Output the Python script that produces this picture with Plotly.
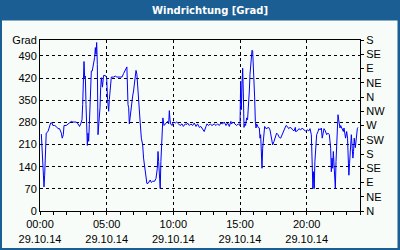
import plotly.graph_objects as go

# time of day in minutes (29.10.14), wind direction in degrees
minutes = [6, 9, 13, 18, 21, 24, 28, 36, 43, 48, 54, 58, 66, 73, 81, 88, 96, 100, 105, 108,
           118, 126, 133, 141, 148, 156, 163, 171, 178, 183, 189, 192, 195, 198, 201, 204, 207, 210, 213, 216,
           219, 222, 225, 228, 231, 235, 240, 246, 249, 252, 255, 258, 261, 264, 267, 270, 273, 276, 281,
           286, 294, 300, 304, 309, 312, 316, 321, 331, 339, 346, 354, 361, 369, 376, 384, 391, 396, 399, 402,
           406, 411, 417, 421, 426, 432, 436, 441, 447, 451, 456, 462, 466, 471, 477, 481, 486, 492, 496, 501,
           507, 516, 522, 528, 531, 534, 537, 541, 544, 549, 553, 558, 564, 571,
           574, 579, 582, 585, 588, 594, 600, 609, 615, 624, 630, 639, 645, 654, 660, 664, 672, 679, 687, 694,
           702, 709, 717, 724, 732, 739, 747, 751, 759, 766, 774, 784, 792, 799, 807, 814, 822, 829, 837, 844,
           852, 859,
           862, 870, 877, 885, 892, 900, 903, 906, 909, 912, 915, 918, 921, 925, 930, 934, 939, 942, 945, 948,
           951, 954, 957, 960, 963, 966, 969, 972, 975, 978, 982, 987, 990, 993, 996, 999, 1002, 1005, 1008,
           1011, 1017, 1023, 1029, 1035, 1041, 1047, 1053, 1059, 1065, 1071, 1077, 1083, 1089, 1095, 1101,
           1107, 1113, 1119, 1125, 1131, 1137, 1143, 1149,
           1150, 1158, 1165, 1173, 1180, 1188, 1195, 1203, 1210, 1215, 1221, 1225, 1228, 1231, 1234, 1237,
           1240, 1245, 1251, 1255, 1260, 1266, 1270, 1275, 1278, 1284, 1290, 1296, 1302, 1308, 1311, 1314,
           1317, 1320, 1323, 1326, 1329, 1332, 1335, 1338, 1341, 1344, 1347, 1350, 1353, 1356, 1359, 1365,
           1368, 1371, 1375, 1380, 1384, 1387, 1390, 1393, 1398, 1401, 1405, 1408, 1411, 1414, 1419, 1422,
           1425, 1428, 1431]
degrees = [243, 200, 115, 76, 113, 220, 246, 251, 267, 278, 278, 270, 270, 267, 260, 260, 246, 230, 241, 270,
           270, 275, 281, 283, 281, 281, 281, 275, 267, 275, 288, 336, 426, 472, 421, 426, 336, 251, 207, 246,
           220, 273, 336, 389, 442, 442, 458, 485, 516, 495, 532, 463, 241, 262, 294, 326, 389, 421, 391,
           428, 428, 421, 352, 315, 352, 400, 423, 423, 426, 423, 423, 421, 423, 434, 444, 455, 336, 326, 275,
           304, 331, 363, 379, 410, 444, 432, 389, 336, 278, 230, 209, 167, 145, 113, 87, 87, 94, 98, 90,
           94, 94, 103, 135, 188, 156, 124, 71, 156, 230, 294, 270, 275, 278,
           283, 275, 317, 288, 275, 270, 281, 278, 281, 275, 270, 275, 267, 275, 273, 278, 270, 275, 270, 278,
           267, 275, 264, 267, 260, 251, 267, 275, 270, 275, 270, 275, 270, 275, 270, 278, 275, 281, 270, 278,
           267, 283,
           275, 281, 275, 270, 275, 270, 410, 320, 400, 451, 373, 264, 275, 270, 294, 288, 336, 379, 432, 469,
           495, 508, 506, 463, 410, 357, 283, 262, 275, 267, 264, 262, 230, 241, 188, 135, 198, 232, 230,
           267, 260, 262, 264, 256, 230, 209, 220, 230, 246, 241, 232, 230, 241, 251, 264,
           270, 267, 260, 264, 262, 256, 253, 264,
           251, 253, 260, 256, 262, 256, 253, 256, 253, 260, 241, 145, 71, 124, 71, 156,
           211, 241, 251, 260, 256, 262, 230, 251, 260, 253, 241, 246, 241, 198, 124, 167,
           135, 188, 135, 103, 71, 156, 220, 253, 304, 288, 273, 262, 270, 264, 264, 251,
           262, 241, 230, 251, 230, 167, 113, 150, 230, 241, 198, 167, 188, 230, 200, 230,
           251, 260, 264]

x_tick_hours = [0, 5, 10, 15, 20]
x_tick_labels = ["00:00<br>29.10.14", "05:00<br>29.10.14", "10:00<br>29.10.14",
                 "15:00<br>29.10.14", "20:00<br>29.10.14"]
left_tick_vals = [0, 70, 140, 210, 280, 350, 420, 490, 540]
left_tick_text = ["0", "70", "140", "210", "280", "350", "420", "490", "Grad"]
right_tick_vals = [0, 45, 90, 135, 180, 225, 270, 315, 360, 405, 450, 495, 540]
right_tick_text = ["N", "NE", "E", "SE", "S", "SW", "W", "NW", "N", "NE", "E", "SE", "S"]
title_text = "Windrichtung [Grad]"

hours = [m / 60 for m in minutes]

BLUE = "#1b5e93"
BG = "#f8fcf8"
FONT = dict(family="Liberation Sans, Arial, sans-serif", size=11, color="black")

fig = go.Figure()
fig.add_trace(go.Scatter(x=hours, y=degrees, mode="lines",
                         line=dict(color="#0000ff", width=1), showlegend=False,
                         hoverinfo="skip"))
# invisible trace to activate right axis
fig.add_trace(go.Scatter(x=[0], y=[0], yaxis="y2", mode="markers",
                         marker=dict(opacity=0), showlegend=False, hoverinfo="skip"))

L, R, T, B = 40, 40, 40, 39
W, H = 400, 250
pw, ph = W - L - R, H - T - B


def px(xp):
    return (xp - L) / pw


def py(yp):
    return (H - B - yp) / ph


fig.add_shape(type="rect", xref="paper", yref="paper",
              x0=px(2), x1=px(397.5), y0=py(248), y1=py(20.5),
              fillcolor=BG, line=dict(width=0), layer="below")

fig.add_annotation(text="<b>" + title_text + "</b>", xref="paper", yref="paper",
                   x=px(209.5), y=py(10.5), xanchor="center", yanchor="middle",
                   showarrow=False,
                   font=dict(family="DejaVu Sans, Verdana, sans-serif", size=10, color="white"))

fig.update_layout(
    width=W, height=H,
    margin=dict(l=L, r=R, t=T, b=B, autoexpand=False),
    paper_bgcolor=BLUE, plot_bgcolor=BG,
    font=FONT,
    xaxis=dict(range=[0, 24], tickvals=x_tick_hours, ticktext=x_tick_labels,
               ticks="outside", ticklen=3, tickcolor="black", tickwidth=1,
               showline=True, linecolor="black", linewidth=1, mirror=True,
               showgrid=True, gridcolor="black", griddash="3px,3px", gridwidth=1,
               zeroline=False, tickfont=FONT, automargin=False,
               minor=dict(dtick=1, ticks="outside", ticklen=3, tickcolor="black",
                          showgrid=False)),
    yaxis=dict(range=[0, 540], tickvals=left_tick_vals, ticktext=left_tick_text,
               ticks="", showline=True, linecolor="black", linewidth=1,
               showgrid=True, gridcolor="black", griddash="3px,3px", gridwidth=1,
               zeroline=False, tickfont=FONT, automargin=False),
    yaxis2=dict(range=[0, 540], tickvals=right_tick_vals, ticktext=right_tick_text,
                overlaying="y", side="right", ticks="outside", ticklen=3,
                tickcolor="black", showline=True, linecolor="black", linewidth=1,
                showgrid=False, zeroline=False, tickfont=FONT, automargin=False),
)

fig.write_html("out.html")
